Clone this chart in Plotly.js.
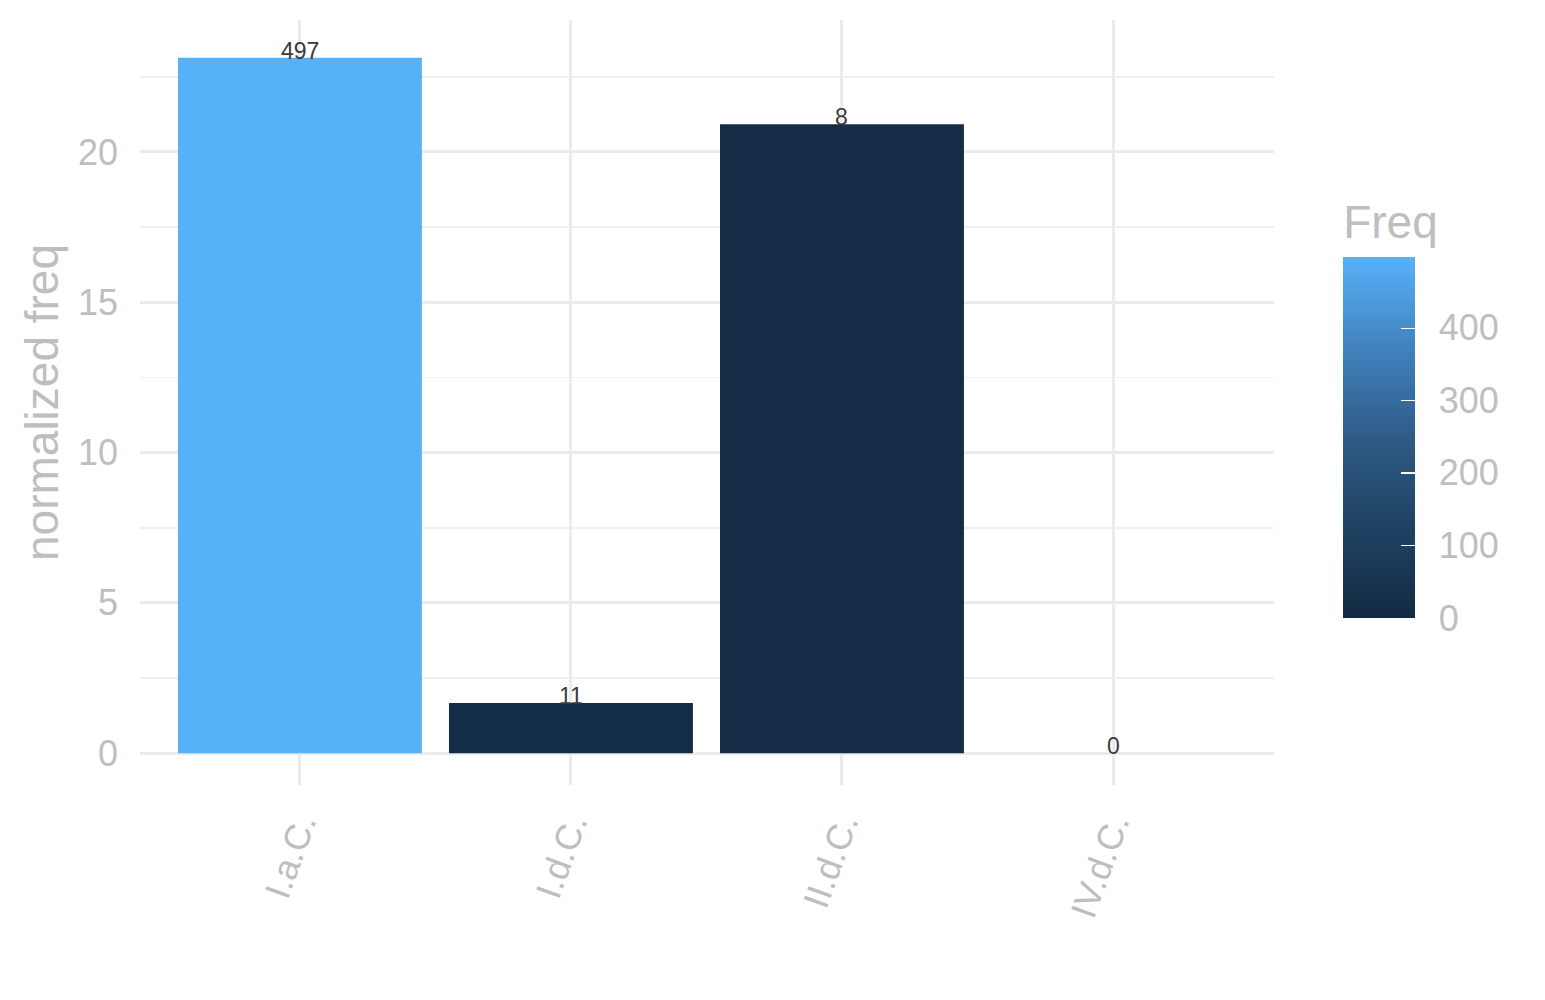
<!DOCTYPE html>
<html>
<head>
<meta charset="utf-8">
<script src="https://cdn.plot.ly/plotly-3.0.1.min.js"></script>
<style>
	body { margin: 0; background: #fff; }
	#chart { width: 1545px; height: 1000px; }
</style>
</head>
<body>
<div id="chart"></div>
<script>
// categories and values
const categories = ["I.a.C.", "I.d.C.", "II.d.C.", "IV.d.C."];
const normFreq = [23.13, 1.67, 20.92, 0];
const freq = [497, 11, 8, 0];
const cbTicks = [0, 100, 200, 300, 400];

const gray = "#BEBEBE";

// ggplot default continuous fill (dark blue -> light blue)
const scale = [
	[0, "#132B43"],
	[0.25, "#1F4262"],
	[0.5, "#2E5B86"],
	[0.75, "#4182BE"],
	[1, "#56B1F7"],
];

const cbBase = {
	x: 1.061,
	xanchor: "left",
	xpad: 0,
	y: 0.2183,
	yanchor: "bottom",
	ypad: 0,
	lenmode: "pixels",
	thickness: 72,
	outlinewidth: 0,
	tickvals: cbTicks,
};

const trace = {
	type: "bar",
	x: categories,
	y: normFreq,
	width: 0.9,
	marker: {
		color: freq,
		cmin: 0,
		cmax: Math.max(...freq),
		colorscale: scale,
		line: { width: 0 },
		showscale: true,
		colorbar: {
			...cbBase,
			title: { text: "Freq", side: "top", font: { size: 46, color: gray } },
			len: 418,
			ticks: "outside",
			ticklen: 17,
			tickcolor: "rgba(0,0,0,0)",
			tickfont: { size: 36, color: gray },
		},
	},
	hoverinfo: "x+y",
};

// same bars, invisible, only to lay the white tick marks over the colour bar
const tickTrace = {
	type: "bar",
	x: categories,
	y: normFreq,
	width: 0.9,
	opacity: 0,
	hoverinfo: "skip",
	marker: {
		color: freq,
		cmin: 0,
		cmax: Math.max(...freq),
		colorscale: scale,
		showscale: true,
		colorbar: {
			...cbBase,
			len: 360,
			ticks: "inside",
			ticklen: 14,
			tickwidth: 1.5,
			tickcolor: "#ffffff",
			showticklabels: false,
		},
	},
};

// count labels sitting on top of each bar
const labels = categories.map((c, i) => ({
	x: c,
	y: normFreq[i],
	text: String(freq[i]),
	showarrow: false,
	yanchor: "bottom",
	yshift: -8,
	font: { size: 23, color: "#3a3a3a", family: "Liberation Sans, Arial, sans-serif" },
}));

const layout = {
	width: 1545,
	height: 1000,
	margin: { l: 140, r: 271, t: 20, b: 215 },
	paper_bgcolor: "#ffffff",
	plot_bgcolor: "#ffffff",
	font: { family: "Liberation Sans, Arial, sans-serif", color: gray },
	showlegend: false,
	barmode: "overlay",
	xaxis: {
		range: [-0.59, 3.594],
		showgrid: true,
		gridcolor: "#EBEBEB",
		gridwidth: 3,
		zeroline: false,
		showline: false,
		ticks: "",
		tickangle: -70,
		ticklabelstandoff: 10,
		tickfont: { size: 36, color: gray },
	},
	yaxis: {
		title: { text: "normalized freq", font: { size: 46, color: gray }, standoff: 4 },
		range: [-1.06, 24.39],
		tickvals: [0, 5, 10, 15, 20],
		showgrid: true,
		gridcolor: "#EBEBEB",
		gridwidth: 3,
		minor: { dtick: 2.5, tick0: 2.5, showgrid: true, gridcolor: "#EFEFEF", gridwidth: 1.6 },
		zeroline: false,
		showline: false,
		ticks: "",
		ticklabelstandoff: 21,
		tickfont: { size: 36, color: gray },
	},
	annotations: labels,
};

Plotly.newPlot("chart", [trace, tickTrace], layout, { displayModeBar: false, staticPlot: true });
</script>
</body>
</html>
